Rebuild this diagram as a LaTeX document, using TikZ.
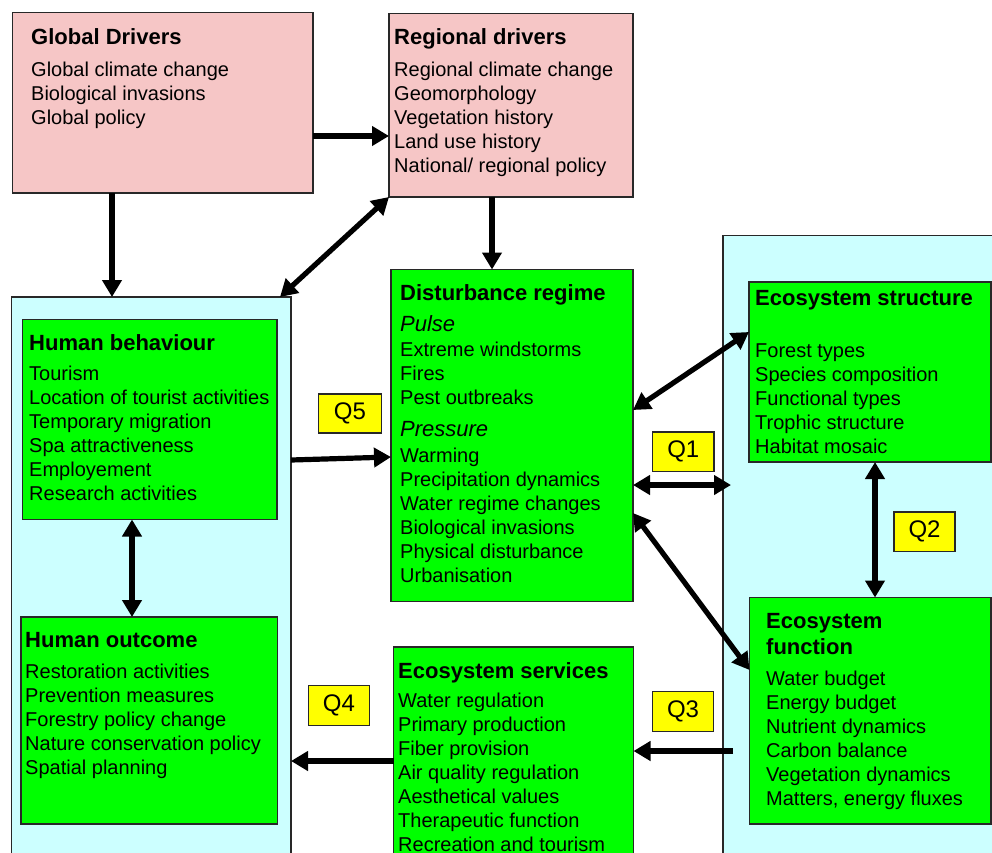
\documentclass[tikz,border=0pt]{standalone}
\usepackage{fontspec}
\setmainfont{Liberation Sans}
\usetikzlibrary{arrows.meta}
\definecolor{pinkfill}{RGB}{246,198,198}
\definecolor{cyanfill}{RGB}{204,255,255}
\definecolor{greenfill}{RGB}{0,255,0}
\definecolor{yellowfill}{RGB}{255,255,0}
\definecolor{edge}{RGB}{40,40,40}
\tikzset{
  boxbase/.style={draw=edge, line width=1.2pt, inner sep=0pt, outer sep=0pt, anchor=north west},
  pinkbox/.style={boxbase, fill=pinkfill},
  panel/.style={boxbase, fill=cyanfill},
  greenbox/.style={boxbase, fill=greenfill},
  qbox/.style={boxbase, fill=yellowfill},
  qtxt/.style={inner sep=0pt, font=\fontsize{24}{28}\selectfont},
  itm/.style={anchor=base west, inner sep=0pt, font=\fontsize{20}{24}\selectfont},
  ttl/.style={anchor=base west, inner sep=0pt, font=\bfseries\fontsize{22}{26}\selectfont},
  itl/.style={anchor=base west, inner sep=0pt, font=\itshape\fontsize{22}{26}\selectfont},
  arr/.style={line width=5.2pt, -{Triangle[length=17pt,width=19pt]}},
  darr/.style={line width=5.2pt, {Triangle[length=17pt,width=19pt]}-{Triangle[length=17pt,width=19pt]}},
}
\newcommand\itemlist[4]{%
  \foreach \t [count=\i] in {#4} {\node[itm] (#1-\i) at (#2, {#3+24*(\i-1)}) {\t};}%
}
\begin{document}
\begin{tikzpicture}[x=1pt,y=-1pt]
\useasboundingbox (0,0) rectangle (992,852);
% panels
\node[panel, minimum width=279.5pt, minimum height=620pt] (lp) at (11.5,297) {};
\node[panel, minimum width=300pt, minimum height=700pt] (rp) at (723,235.5) {};
% driver boxes
\node[pinkbox, minimum width=300.5pt, minimum height=180.5pt] (gd) at (12.5,12.5) {};
\node[pinkbox, minimum width=244pt, minimum height=183.5pt] (rd) at (389,13.5) {};
% green boxes
\node[greenbox, minimum width=242pt, minimum height=332pt] (dr) at (391,269.5) {};
\node[greenbox, minimum width=242pt, minimum height=180pt] (es) at (749,282) {};
\node[greenbox, minimum width=241.5pt, minimum height=226.5pt] (ef) at (749.5,597.5) {};
\node[greenbox, minimum width=254.5pt, minimum height=200pt] (hb) at (22.5,319.5) {};
\node[greenbox, minimum width=256.5pt, minimum height=207pt] (ho) at (21,617) {};
\node[greenbox, minimum width=240pt, minimum height=300pt] (sv) at (393.5,647) {};
% Q labels
\node[qbox, minimum width=63pt, minimum height=39pt] (q5) at (318.5,394) {};
\node[qtxt] (q5t) at (q5.center) {Q5};
\node[qbox, minimum width=61.5pt, minimum height=39.5pt] (q1) at (652.5,432) {};
\node[qtxt] (q1t) at (q1.center) {Q1};
\node[qbox, minimum width=61pt, minimum height=39.5pt] (q2) at (894,512) {};
\node[qtxt] (q2t) at (q2.center) {Q2};
\node[qbox, minimum width=61pt, minimum height=40pt] (q4) at (308.5,685.5) {};
\node[qtxt] (q4t) at (q4.center) {Q4};
\node[qbox, minimum width=61pt, minimum height=40pt] (q3) at (652.5,691.5) {};
\node[qtxt] (q3t) at (q3.center) {Q3};
% texts
\node[ttl] (gdt) at (31,44) {Global Drivers};
\itemlist{gdi}{31}{76}{Global climate change, Biological invasions, Global policy}
\node[ttl] (rdt) at (394,44) {Regional drivers};
\itemlist{rdi}{394}{76}{Regional climate change, Geomorphology, Vegetation history, Land use history, National/ regional policy}
\node[ttl] (drt) at (400,300) {Disturbance regime};
\node[itl] (drp) at (400,331.5) {Pulse};
\itemlist{dri}{400}{356}{Extreme windstorms, Fires, Pest outbreaks}
\node[itl] (drq) at (400,436) {Pressure};
\itemlist{drj}{400}{462}{Warming, Precipitation dynamics, Water regime changes, Biological invasions, Physical disturbance, Urbanisation}
\node[ttl] (est) at (755,305) {Ecosystem structure};
\itemlist{esi}{755}{357}{Forest types, Species composition, Functional types, Trophic structure, Habitat mosaic}
\node[ttl] (hbt) at (29,350) {Human behaviour};
\itemlist{hbi}{29}{380}{Tourism, Location of tourist activities, Temporary migration, Spa attractiveness, Employement, Research activities}
\node[ttl] (hot) at (25,647) {Human outcome};
\itemlist{hoi}{25}{678}{Restoration activities, Prevention measures, Forestry policy change, Nature conservation policy, Spatial planning}
\node[ttl] (svt) at (398,678) {Ecosystem services};
\itemlist{svi}{398}{707}{Water regulation, Primary production, Fiber provision, Air quality regulation, Aesthetical values, Therapeutic function, Recreation and tourism}
\node[ttl] (eft) at (766,628) {Ecosystem};
\node[ttl] (efu) at (766,654) {function};
\itemlist{efi}{766}{685}{Water budget, Energy budget, Nutrient dynamics, Carbon balance, Vegetation dynamics, {Matters, energy fluxes}}
% arrows
\draw[arr] (gd.east |- 0,136) -- (rd.west |- 0,136);
\draw[arr] (gd.south -| 112,0) -- (lp.north -| 112,0);
\draw[darr] (rd.south west) -- ([xshift=-11pt]lp.north east);
\draw[arr] (rd.south -| 492,0) -- (dr.north -| 492,0);
\draw[arr] (lp.east |- 0,460) -- (dr.west |- 0,457);
\draw[darr] (dr.east |- 0,410) -- (es.west |- 0,332);
\draw[darr] (dr.east |- 0,485) -- ([xshift=8pt]rp.west |- 0,485);
\draw[darr] (dr.east |- 0,513) -- (ef.west |- 0,670);
\draw[darr] (es.south -| 875,0) -- (ef.north -| 875,0);
\draw[darr] (hb.south -| 132,0) -- (ho.north -| 132,0);
\draw[arr] ([xshift=10pt]rp.west |- 0,751) -- (sv.east |- 0,751);
\draw[arr] (sv.west |- 0,761) -- (lp.east |- 0,761);
\end{tikzpicture}
\end{document}
